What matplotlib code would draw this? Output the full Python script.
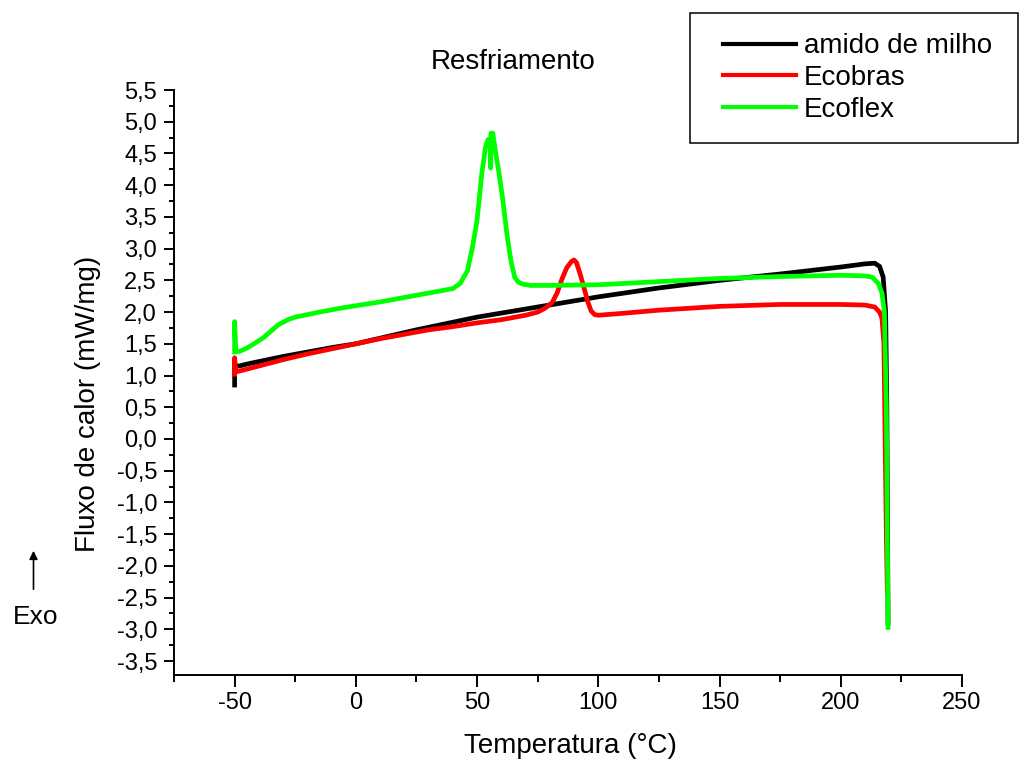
import matplotlib
matplotlib.use("Agg")
import matplotlib.pyplot as plt
from matplotlib.ticker import MultipleLocator, FuncFormatter
from matplotlib.patches import Rectangle
from matplotlib.lines import Line2D

plt.rcParams['font.family'] = ['Liberation Sans', 'DejaVu Sans']

# ---- data ----
amido_x = [-50, -50, -49.5, -48, -45, -40, -30, -20, -10, 0, 25, 50, 75, 100, 125, 150,
           175, 200, 210, 214, 216, 217.5, 218.5, 219, 219.3, 219.5]
amido_y = [0.85, 1.2, 1.15, 1.15, 1.18, 1.22, 1.3, 1.37, 1.44, 1.5, 1.72, 1.92, 2.08, 2.24,
           2.38, 2.5, 2.6, 2.71, 2.76, 2.77, 2.72, 2.55, 2.0, 0.5, -1.5, -2.9]

ecobras_x = [-50, -50, -49.5, -48, -45, -40, -35, -30, -20, -10, 0, 10, 20, 30, 40, 50, 60,
             70, 75, 78, 81, 83, 85, 87, 89, 90, 91, 92.5, 94, 95.5, 97, 98.5, 100, 110, 125,
             150, 175, 200, 210, 214, 216, 217, 217.8, 218.3, 218.8, 219.2]
ecobras_y = [1.02, 1.28, 1.06, 1.07, 1.1, 1.15, 1.2, 1.25, 1.34, 1.42, 1.5, 1.58, 1.65, 1.72,
             1.77, 1.83, 1.88, 1.95, 2.0, 2.06, 2.15, 2.3, 2.52, 2.7, 2.8, 2.82, 2.78, 2.6,
             2.4, 2.18, 2.02, 1.96, 1.95, 1.98, 2.03, 2.09, 2.12, 2.12, 2.11, 2.08, 2.0, 1.9,
             1.5, 0.0, -1.5, -2.4]

ecoflex_x = [-50, -50, -49.5, -48, -45, -42, -38, -35, -32, -28, -25, -20, -15, -5, 0, 10,
             20, 30, 40, 43, 46, 48, 50, 52, 53.5, 54.5, 55.4, 55.6, 55.75, 56.5, 57.5, 59,
             60.5, 62.4, 64, 65.5, 67, 69, 72, 80, 100, 125, 150, 175, 200, 210, 213, 215.5,
             217, 218, 218.8, 219.2, 219.5]
ecoflex_y = [1.37, 1.85, 1.38, 1.38, 1.43, 1.5, 1.6, 1.7, 1.8, 1.88, 1.92, 1.96, 2.0, 2.07,
             2.1, 2.16, 2.23, 2.3, 2.37, 2.45, 2.65, 3.0, 3.45, 4.2, 4.6, 4.72, 4.72, 4.27,
             4.82, 4.82, 4.55, 4.2, 3.8, 3.2, 2.8, 2.55, 2.47, 2.44, 2.42, 2.42, 2.43, 2.48,
             2.53, 2.56, 2.58, 2.57, 2.55, 2.45, 2.3, 2.0, 0.5, -1.5, -2.97]

series_labels = ["amido de milho", "Ecobras", "Ecoflex"]
series_colors = ["#000000", "#ff0000", "#00ff00"]

# ---- figure ----
W, H = 1024, 764
fig = plt.figure(figsize=(W / 100, H / 100), dpi=100)
ax_l, ax_r, ax_t, ax_b = 174, 962, 90, 675
ax = fig.add_axes([ax_l / W, 1 - ax_b / H, (ax_r - ax_l) / W, (ax_b - ax_t) / H])

lw = 3.4
ax.plot(amido_x, amido_y, color=series_colors[0], lw=lw, zorder=3, solid_joinstyle='round')
ax.plot(ecobras_x, ecobras_y, color=series_colors[1], lw=lw, zorder=4, solid_joinstyle='round')
ax.plot(ecoflex_x, ecoflex_y, color=series_colors[2], lw=lw, zorder=5, solid_joinstyle='round')

ax.set_xlim(-75, 250)
ax.set_ylim(-3.72, 5.5)

ax.xaxis.set_major_locator(MultipleLocator(50))
ax.xaxis.set_minor_locator(MultipleLocator(25))
ax.yaxis.set_major_locator(MultipleLocator(0.5))
ax.yaxis.set_minor_locator(MultipleLocator(0.25))

def xfmt(v, pos):
    if v < -60:
        return ""
    return "%d" % round(v)

def yfmt(v, pos):
    s = "%.1f" % v
    if s == "-0.0":
        s = "0.0"
    return s.replace(".", ",")

ax.xaxis.set_major_formatter(FuncFormatter(xfmt))
ax.yaxis.set_major_formatter(FuncFormatter(yfmt))

for s in ["top", "right"]:
    ax.spines[s].set_visible(False)
for s in ["left", "bottom"]:
    ax.spines[s].set_linewidth(1.4)

ax.tick_params(axis='x', which='major', direction='out', length=8.6, width=1.4,
               labelsize=17, pad=3.5)
ax.tick_params(axis='x', which='minor', direction='out', length=5, width=1.4)
ax.tick_params(axis='y', which='major', direction='out', length=7.2, width=1.4,
               labelsize=17, pad=5)
ax.tick_params(axis='y', which='minor', direction='out', length=3.6, width=1.4)

ax.set_xlabel("Temperatura (°C)", fontsize=20, va='center')
ax.xaxis.set_label_coords((570 - ax_l) / (ax_r - ax_l), (ax_b - 746) / (ax_b - ax_t))
ax.set_ylabel("Fluxo de calor (mW/mg)", fontsize=20, va='center', ha='center')
ax.yaxis.set_label_coords((88 - ax_l) / (ax_r - ax_l), (ax_b - 404) / (ax_b - ax_t))

fig.text(513 / W, 1 - 62 / H, "Resfriamento", fontsize=20, ha='center', va='center')

# Exo arrow
fig.text(36 / W, 1 - 617 / H, "Exo", fontsize=19, ha='center', va='center')
ax.annotate("", xy=(33.5, H - 548), xytext=(33.5, H - 592),
            xycoords='figure pixels', textcoords='figure pixels',
            arrowprops=dict(arrowstyle='-|>', lw=1.2, color='black', mutation_scale=12),
            annotation_clip=False)

# legend
handles = [Line2D([], [], color=c, lw=3.0) for c in series_colors]
fig.legend(handles, series_labels, loc='center',
           bbox_to_anchor=(857.5 / W, 1 - 78 / H), frameon=False, fontsize=20,
           handlelength=2.63, handletextpad=0.3, labelspacing=0.2, borderpad=0,
           borderaxespad=0)
fig.patches.append(Rectangle((690 / W, 1 - 143 / H), 328 / W, 130 / H,
                             transform=fig.transFigure, fill=False, edgecolor='black',
                             lw=1.1, zorder=10))

fig.savefig("out.png", dpi=100)
